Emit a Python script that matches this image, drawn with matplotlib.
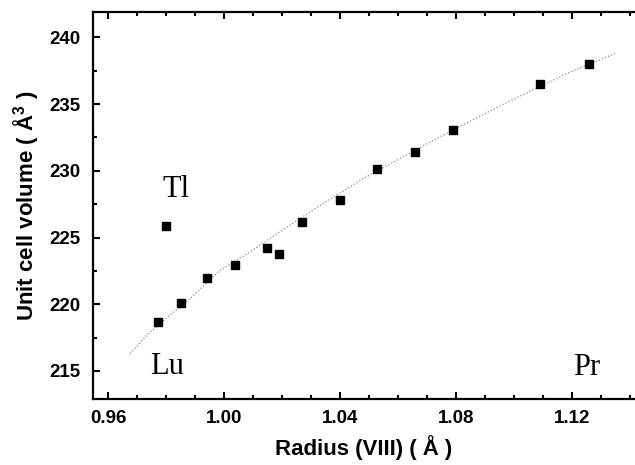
import matplotlib
matplotlib.use("Agg")
import matplotlib.pyplot as plt
from matplotlib.ticker import MultipleLocator

plt.rcParams['font.family'] = ['Liberation Sans', 'DejaVu Sans']
plt.rcParams['font.weight'] = 'bold'
plt.rcParams['mathtext.fontset'] = 'custom'
plt.rcParams['mathtext.rm'] = 'Liberation Sans:bold'
plt.rcParams['mathtext.it'] = 'Liberation Sans:bold'

# Puntos medidos (radio VIII, volumen de celda)
radius = [0.9772, 0.9851, 0.9942, 1.0039, 1.0149, 1.0191, 1.0269,
          1.0398, 1.0529, 1.0659, 1.0788, 1.1088, 1.1259]
volume = [218.7, 220.1, 221.97, 222.95, 224.25, 223.77, 226.2,
          227.78, 230.15, 231.42, 233.05, 236.5, 238.02]

# Punto de Tl (fuera de la tendencia)
tl_radius = [0.9801]
tl_volume = [225.85]

# Curva punteada
fit_x = [0.9676, 0.9739, 0.9814, 0.9883, 0.9986, 1.0090, 1.0217, 1.0333,
         1.0481, 1.0734, 1.0964, 1.1183, 1.1355]
fit_y = [216.3, 217.8, 219.2, 220.43, 222.55, 223.92, 225.8, 227.43,
         229.43, 232.43, 235.0, 237.3, 238.85]

fig = plt.figure(figsize=(6.35, 4.65), dpi=100)
ax = fig.add_axes([0.1465, 0.1419, 0.8535, 0.8323])

ax.plot(fit_x, fit_y, linestyle=':', color='#888888', linewidth=0.9)
ax.plot(radius, volume, 's', color='black', markersize=6)
ax.plot(tl_radius, tl_volume, 's', color='black', markersize=6)

ax.text(0.9787, 228.0, 'Tl', family='Liberation Serif', fontsize=22,
        fontweight='normal')
ax.text(0.9744, 214.75, 'Lu', family='Liberation Serif', fontsize=22,
        fontweight='normal')
ax.text(1.1205, 214.7, 'Pr', family='Liberation Serif', fontsize=22,
        fontweight='normal')

ax.set_xlim(0.9548, 1.1417)
ax.set_ylim(212.9, 241.9)
ax.xaxis.set_major_locator(MultipleLocator(0.04))
ax.xaxis.set_minor_locator(MultipleLocator(0.01))
ax.yaxis.set_major_locator(MultipleLocator(5))
ax.yaxis.set_minor_locator(MultipleLocator(2.5))
ax.set_xticks([0.96, 1.00, 1.04, 1.08, 1.12])
ax.set_xticklabels(['0.96', '1.00', '1.04', '1.08', '1.12'])

ax.tick_params(which='both', direction='in', top=True, right=False,
               labelsize=13.5, width=1.5)
ax.tick_params(which='major', length=5)
ax.tick_params(which='minor', length=3)
ax.tick_params(axis='y', pad=9)
ax.tick_params(axis='x', pad=8)
for s in ['left', 'bottom', 'top']:
    ax.spines[s].set_linewidth(1.6)
ax.spines['right'].set_visible(False)

ax.set_xlabel('Radius (VIII) ( Å )', fontsize=16, fontweight='bold',
              labelpad=6)
ax.set_ylabel('Unit cell volume ( Å$^3$ )', fontsize=16, fontweight='bold',
              labelpad=6)

fig.savefig('out.png', dpi=100)
